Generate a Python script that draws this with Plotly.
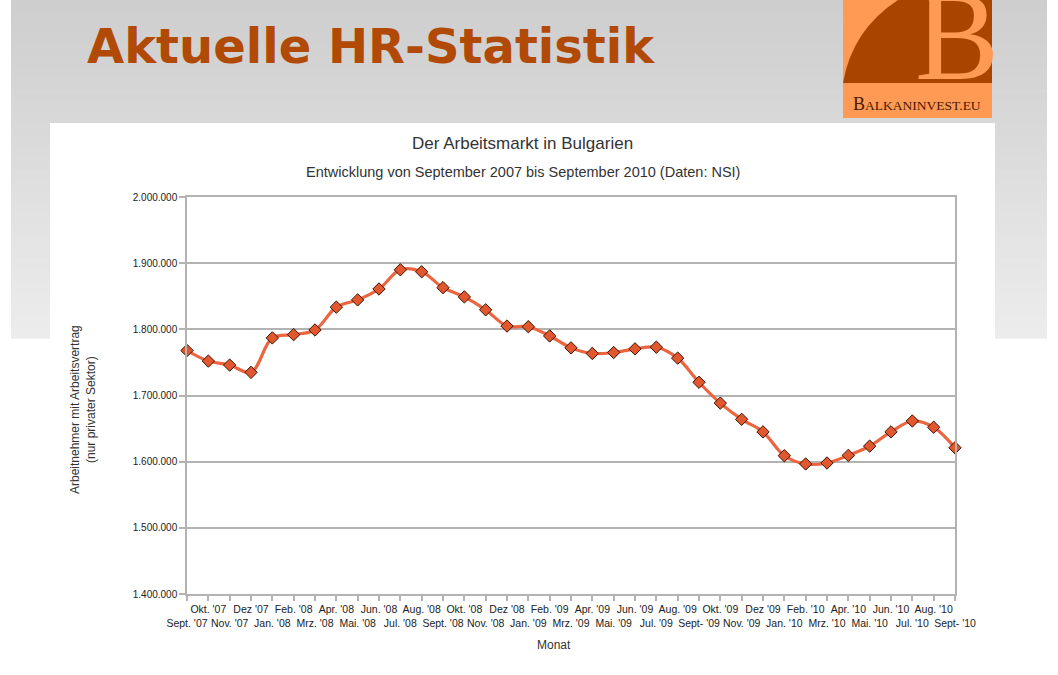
import plotly.graph_objects as go

W, H = 1058, 675

months = ["Sept. '07", "Okt. '07", "Nov. '07", "Dez '07", "Jan. '08", "Feb. '08", "Mrz. '08",
          "Apr. '08", "Mai. '08", "Jun. '08", "Jul. '08", "Aug. '08", "Sept. '08", "Okt. '08",
          "Nov. '08", "Dez '08", "Jan. '09", "Feb. '09", "Mrz. '09", "Apr. '09", "Mai. '09",
          "Jun. '09", "Jul. '09", "Aug. '09", "Sept- '09", "Okt. '09", "Nov. '09", "Dez '09",
          "Jan. '10", "Feb. '10", "Mrz. '10", "Apr. '10", "Mai. '10", "Jun. '10", "Jul. '10",
          "Aug. '10", "Sept- '10"]

employees = [1768000, 1752000, 1746000, 1735000, 1787000, 1792000, 1799000,
             1833500, 1844500, 1861000, 1890000, 1887000, 1863000, 1849000,
             1829500, 1805000, 1804000, 1790000, 1772000, 1763500, 1765000,
             1770500, 1773000, 1756500, 1720000, 1688500, 1664000, 1645000,
             1609000, 1596500, 1598000, 1609500, 1623500, 1645000, 1661500,
             1652000, 1621000]

y_ticks = [1400000, 1500000, 1600000, 1700000, 1800000, 1900000, 2000000]


def px(x):
    return x / W


def py(y):
    return 1 - y / H


x_idx = list(range(len(months)))
tick_text = [("<br>" + m) if i % 2 == 0 else m for i, m in enumerate(months)]

fig = go.Figure()
fig.add_trace(go.Scatter(
    x=x_idx, y=employees, mode="lines+markers",
    line=dict(color="#EA6540", width=3.2, shape="spline", smoothing=1.0),
    marker=dict(symbol="diamond", size=9.5, color="#E2572E",
                line=dict(color="#3a1505", width=1)),
    cliponaxis=False, showlegend=False, hoverinfo="x+y"))

shapes = []
# gray gradient slide background (stacked strips)
n = 30
top_c, bot_c = 206, 236
for i in range(n):
    y0 = 338 * i / n
    y1 = 338 * (i + 1) / n
    c = int(round(top_c + (bot_c - top_c) * i / (n - 1)))
    shapes.append(dict(type="rect", xref="paper", yref="paper", layer="below",
                       x0=px(11), x1=px(1047), y0=py(y1) - 0.001, y1=py(y0),
                       fillcolor=f"rgb({c},{c},{c})", line=dict(width=0)))
# white chart box
shapes.append(dict(type="rect", xref="paper", yref="paper", layer="below",
                   x0=px(50), x1=px(995), y0=0, y1=py(123),
                   fillcolor="white", line=dict(width=0)))
# logo
shapes.append(dict(type="rect", xref="paper", yref="paper", layer="below",
                   x0=px(843), x1=px(992), y0=py(118), y1=1,
                   fillcolor="#FF9A55", line=dict(width=0)))
logo_path = (f"M {px(898)},{py(0)} Q {px(852)},{py(30)} {px(843)},{py(83)} "
             f"L {px(992)},{py(83)} L {px(992)},{py(0)} Z")
shapes.append(dict(type="path", xref="paper", yref="paper", layer="below",
                   path=logo_path, fillcolor="#A84300", line=dict(width=0)))

annotations = [
    dict(text="<b>Aktuelle HR-Statistik</b>", x=px(85), y=py(46), xref="paper", yref="paper",
         xanchor="left", yanchor="middle", showarrow=False,
         font=dict(family="DejaVu Sans", size=48, color="#B04A06")),
    dict(text="B", x=px(957), y=py(36), xref="paper", yref="paper",
         xanchor="center", yanchor="middle", showarrow=False,
         font=dict(family="Liberation Serif", size=126, color="#FF9A55")),
    dict(text="B<span style='font-size:13.5px'>ALKANINVEST.EU</span>", x=px(917), y=py(104),
         xref="paper", yref="paper", xanchor="center", yanchor="middle", showarrow=False,
         font=dict(family="Liberation Serif", size=18, color="#4a1800")),
    dict(text="Der Arbeitsmarkt in Bulgarien", x=px(522), y=py(143), xref="paper", yref="paper",
         xanchor="center", yanchor="middle", showarrow=False,
         font=dict(family="Liberation Sans", size=17, color="#333333")),
    dict(text="Entwicklung von September 2007 bis September 2010 (Daten: NSI)", x=px(523), y=py(172),
         xref="paper", yref="paper", xanchor="center", yanchor="middle", showarrow=False,
         font=dict(family="Liberation Sans", size=14.5, color="#333333")),
    dict(text="Arbeitnehmer mit Arbeitsvertrag<br>(nur privater Sektor)", x=px(83), y=py(410),
         xref="paper", yref="paper", xanchor="center", yanchor="middle", showarrow=False,
         textangle=-90, font=dict(family="Liberation Sans", size=12, color="#333333")),
    dict(text="Monat", x=px(554), y=py(645), xref="paper", yref="paper",
         xanchor="center", yanchor="middle", showarrow=False,
         font=dict(family="Liberation Sans", size=12, color="#333333")),
]

fig.update_layout(
    width=W, height=H, autosize=False,
    margin=dict(l=0, r=0, t=0, b=0),
    paper_bgcolor="white", plot_bgcolor="white",
    separators=",.",
    shapes=shapes, annotations=annotations,
    xaxis=dict(domain=[px(187), px(955)], range=[0, len(months) - 1],
               tickvals=x_idx, ticktext=tick_text, tickangle=0,
               showgrid=False, zeroline=False, automargin=False,
               showline=True, linecolor="#b3b3b3", linewidth=1.5, mirror=True,
               ticks="outside", ticklen=5, tickcolor="#b3b3b3", tickwidth=1.5,
               tickfont=dict(family="Liberation Sans", size=10.5, color="#222222")),
    yaxis=dict(domain=[py(594), py(197)], range=[1400000, 2000000],
               tickvals=y_ticks, tickformat=",d", automargin=False,
               showgrid=True, gridcolor="#b3b3b3", gridwidth=1.5, zeroline=False,
               showline=True, linecolor="#b3b3b3", linewidth=1.5, mirror=True,
               ticks="outside", ticklen=6, tickcolor="#b3b3b3", tickwidth=1.5,
               tickfont=dict(family="Liberation Sans", size=10, color="#222222")),
)

fig.write_html("out.html", config={"displayModeBar": False},
               post_script="document.body.style.margin='0';document.body.style.overflow='hidden';")
